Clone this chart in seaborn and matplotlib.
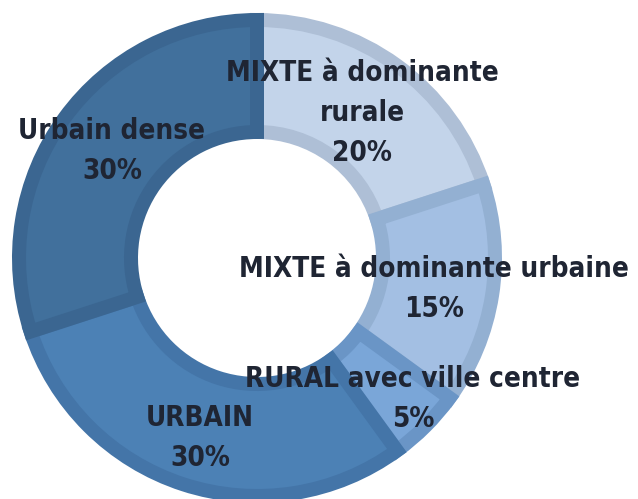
import matplotlib
matplotlib.use("Agg")
import matplotlib.pyplot as plt
import seaborn as sns

# ---- data ----
categories = ["MIXTE à dominante\nrurale", "MIXTE à dominante urbaine",
              "RURAL avec ville centre", "URBAIN", "Urbain dense"]
values = [20, 15, 5, 30, 30]
pct_labels = ["20%", "15%", "5%", "30%", "30%"]

fill_colors = ["#c3d4ea", "#a3bfe3", "#7aa6d8", "#4c81b5", "#41709c"]
edge_colors = ["#aebfd6", "#93b0d2", "#6a95c6", "#4475a8", "#3b6691"]

sns.set_theme(style="white")
plt.rcParams["font.family"] = ["DejaVu Sans"]

W, H = 638, 499
DPI = 100
fig = plt.figure(figsize=(W / DPI, H / DPI), dpi=DPI)
ax = fig.add_axes([0, 0, 1, 1])

cx, cy = 257, H - 258
R, ring = 245, 126
b = 7  # half stroke width in pixels (border band)
palette = sns.color_palette(fill_colors)
wedges, _ = ax.pie(values, colors=palette, startangle=90, counterclock=False,
                   center=(cx, cy), radius=R - b,
                   wedgeprops=dict(width=ring - 2 * b, linewidth=2 * b * 72 / DPI,
                                   joinstyle="miter"))
for w, ec in zip(wedges, edge_colors):
    w.set_edgecolor(ec)

ax.set_xlim(0, W)
ax.set_ylim(0, H)
ax.set_aspect("auto")
ax.axis("off")

label_pos = [(362, 113), (434, 289), (413, 399), (200, 438), (112, 151)]
for cat, pct, (x, y) in zip(categories, pct_labels, label_pos):
    ax.text(x, H - y, f"{cat}\n{pct}", ha="center", va="center",
            fontsize=20, fontweight="bold", fontstretch="condensed",
            color="#1f2533", linespacing=1.55)

fig.savefig("out.png", dpi=DPI)
